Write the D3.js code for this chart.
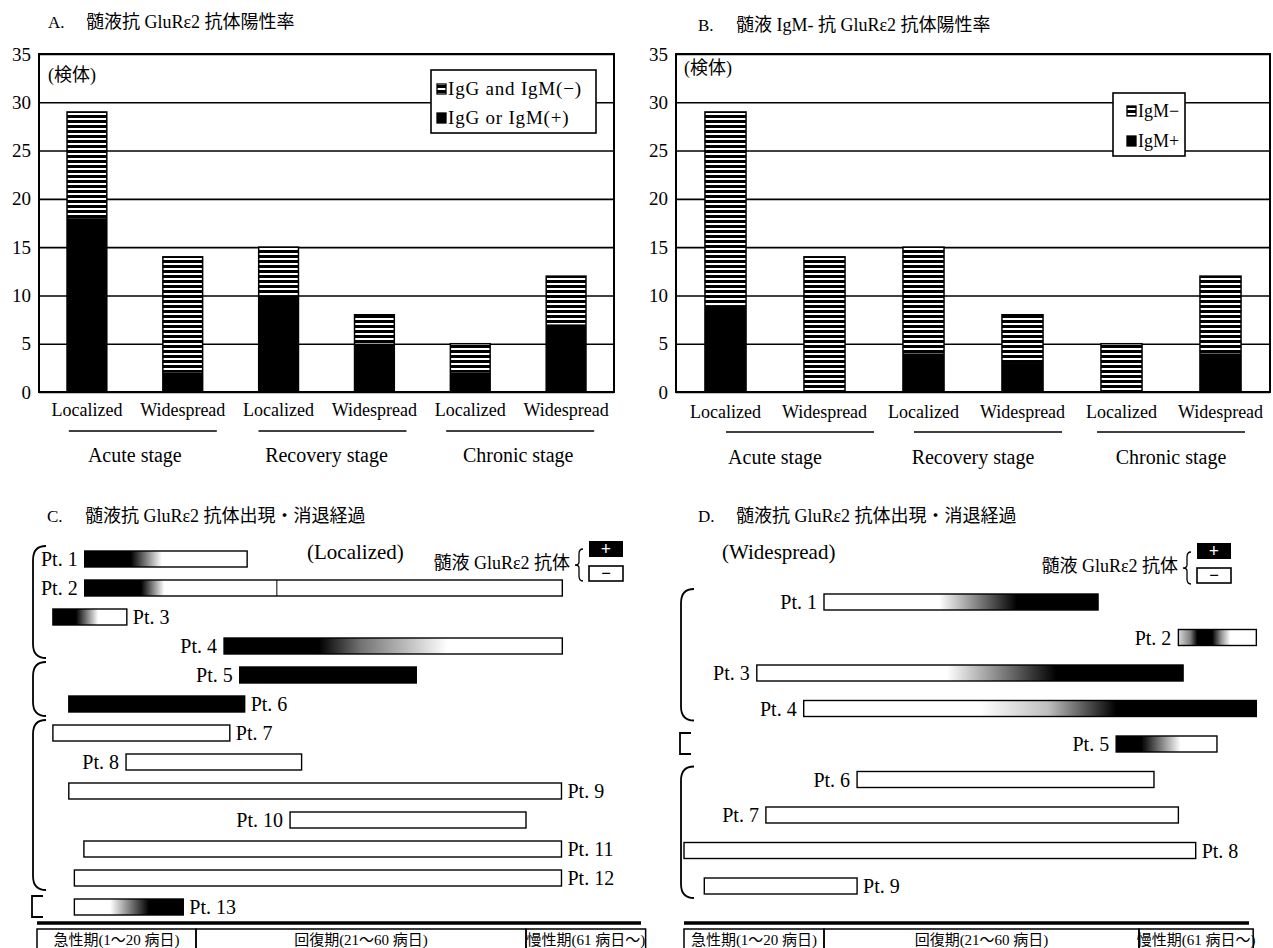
<!DOCTYPE html>
<html><head><meta charset="utf-8">
<script src="https://cdn.jsdelivr.net/npm/d3@7"></script>
<style>
body{margin:0;background:#fff}
svg text{font-family:"Liberation Serif","Noto Sans CJK JP",serif;fill:#000}
</style></head><body>
<svg id="c" width="1273" height="948"></svg>
<script>
// ---------- DATA ----------
const groups = ["Localized", "Widespread"];
const stages = ["Acute stage", "Recovery stage", "Chronic stage"];
const categories = ["Acute-Localized", "Acute-Widespread", "Recovery-Localized", "Recovery-Widespread", "Chronic-Localized", "Chronic-Widespread"];
const yTicks = [0, 5, 10, 15, 20, 25, 30, 35];

const totalA = [29, 14, 15, 8, 5, 12];
const positiveA = [18, 2, 10, 5, 2, 7];
const legendA = ["IgG and IgM(−)", "IgG or IgM(+)"];

const totalB = [29, 14, 15, 8, 5, 12];
const positiveB = [9, 0, 4, 3, 0, 4];
const legendB = ["IgM−", "IgM+"];

const titleA = "髄液抗 GluRε2 抗体陽性率";
const titleB = "髄液 IgM- 抗 GluRε2 抗体陽性率";
const titleC = "髄液抗 GluRε2 抗体出現・消退経過";
const titleD = "髄液抗 GluRε2 抗体出現・消退経過";
const unitLabel = "(検体)";

const phaseLabels = ["急性期(1～20 病日)", "回復期(21～60 病日)", "慢性期(61 病日～)"];
const phaseDays = [0, 20, 60, 74.5];
const keyLabel = "髄液 GluRε2 抗体";

// Panel C (Localized) – day of onset/end, antibody level stops [day, level(1=+,0=-)]
const ptC = ["Pt. 1","Pt. 2","Pt. 3","Pt. 4","Pt. 5","Pt. 6","Pt. 7","Pt. 8","Pt. 9","Pt. 10","Pt. 11","Pt. 12","Pt. 13"];
const startC = [6.0, 6.0, 2.0, 23.4, 25.3, 4.0, 2.0, 11.2, 4.0, 31.4, 5.9, 4.7, 4.7];
const endC   = [26.2, 64.4, 11.3, 64.4, 46.7, 25.9, 24.1, 32.8, 64.3, 60.0, 64.3, 64.3, 18.4];
const profileC = [
  [[11.8,1],[15.7,0]],
  [[13.1,1],[16.0,0]],
  [[4.9,1],[7.7,0]],
  [[34.9,1],[40,0.55],[50.5,0]],
  [[0,1]],
  [[0,1]],
  [],[],[],[],[],[],
  [[9.2,0],[14.1,1]]
];
const sideC = ["L","L","R","L","L","R","R","L","R","L","R","R","R"];
const markC = [null, 29.8, null, null, null, null, null, null, null, null, null, null, null];
const bracketsC = [[0,3],[4,5],[6,11],[12,12]];

// Panel D (Widespread)
const ptD = ["Pt. 1","Pt. 2","Pt. 3","Pt. 4","Pt. 5","Pt. 6","Pt. 7","Pt. 8","Pt. 9"];
const startD = [20.0, 65.0, 10.4, 17.1, 57.1, 24.2, 11.7, 0.0, 2.9];
const endD   = [54.8, 74.9, 65.6, 74.9, 69.9, 61.9, 65.0, 67.2, 24.2];
const profileD = [
  [[34.6,0],[44.5,1]],
  [[65,0.15],[66.5,0.5],[67.4,1],[69.3,1],[70.5,0.4],[71.6,0]],
  [[35.6,0],[49.5,1]],
  [[39.8,0],[48.4,0.25],[57.1,1]],
  [[60.3,1],[65.3,0]],
  [],[],[],[]
];
const sideD = ["L","L","L","L","L","L","L","R","R"];
const markD = [null, null, null, null, null, null, null, null, null];
const bracketsD = [[0,3],[4,4],[5,8]];

// ---------- DRAW ----------
const svg = d3.select("#c");
const defs = svg.append("defs");
const pat = defs.append("pattern").attr("id", "stripes").attr("patternUnits", "userSpaceOnUse")
  .attr("width", 8).attr("height", 5);
pat.append("rect").attr("width", 8).attr("height", 5).attr("fill", "#fff");
pat.append("rect").attr("width", 8).attr("height", 3).attr("fill", "#000");

const gray = v => { const c = Math.round(255 * (1 - v)); return `rgb(${c},${c},${c})`; };

function title(x, y, letter, text) {
  svg.append("text").attr("x", x).attr("y", y).attr("font-size", 17).text(letter);
  svg.append("text").attr("x", x + 38).attr("y", y).attr("font-size", 18).text(text);
}

function barPanel(c) {
  const g = svg.append("g");
  const x = d3.scaleBand().domain(categories).range([c.x0, c.x1]).paddingInner(c.pad).paddingOuter(c.pad / 2);
  const y = d3.scaleLinear().domain([0, 35]).range([c.yb, c.yt]);

  const ax = g.append("g").attr("transform", `translate(${c.x0},0)`)
    .call(d3.axisLeft(y).tickValues(yTicks).tickSize(-(c.x1 - c.x0)).tickPadding(8).tickFormat(d3.format("d")));
  ax.select(".domain").remove();
  ax.selectAll(".tick line").attr("stroke", "#000").attr("stroke-width", 1.6);
  ax.selectAll(".tick text").attr("font-size", 19).attr("fill", "#000");

  g.append("rect").attr("x", c.x0).attr("y", c.yt).attr("width", c.x1 - c.x0).attr("height", c.yb - c.yt)
    .attr("fill", "none").attr("stroke", "#000").attr("stroke-width", 2);

  g.append("text").attr("x", c.unitX).attr("y", c.unitY).attr("font-size", 18).text(unitLabel);

  const bars = g.selectAll(".bar").data(categories).join("g");
  bars.append("rect").attr("x", d => x(d)).attr("width", x.bandwidth())
    .attr("y", (d, i) => y(c.total[i])).attr("height", (d, i) => y(c.pos[i]) - y(c.total[i]))
    .attr("fill", "url(#stripes)");
  bars.append("rect").attr("x", d => x(d)).attr("width", x.bandwidth())
    .attr("y", (d, i) => y(c.pos[i])).attr("height", (d, i) => y(0) - y(c.pos[i]))
    .attr("fill", "#000");
  bars.append("rect").attr("x", d => x(d)).attr("width", x.bandwidth())
    .attr("y", (d, i) => y(c.total[i])).attr("height", (d, i) => y(0) - y(c.total[i]))
    .attr("fill", "none").attr("stroke", "#000").attr("stroke-width", 1.5);

  const xa = g.append("g").attr("transform", `translate(0,${c.yb})`)
    .call(d3.axisBottom(x).tickSize(0).tickPadding(c.labPad).tickFormat((d, i) => groups[i % 2]));
  xa.select(".domain").remove();
  xa.selectAll("text").attr("font-size", 18).attr("fill", "#000");

  stages.forEach((s, k) => {
    const a = x(categories[2 * k]) + x.bandwidth() / 2, b = x(categories[2 * k + 1]) + x.bandwidth() / 2;
    const m = (a + b) / 2;
    g.append("line").attr("x1", m - 74 + c.ulShift[k]).attr("x2", m + 74 + c.ulShift[k])
      .attr("y1", c.ulY).attr("y2", c.ulY).attr("stroke", "#000").attr("stroke-width", 1.6);
    g.append("text").attr("x", m).attr("y", c.stY).attr("text-anchor", "middle").attr("font-size", 20).text(s);
  });

  const L = c.leg;
  g.append("rect").attr("x", L.x).attr("y", L.y).attr("width", L.w).attr("height", L.h)
    .attr("fill", "#fff").attr("stroke", "#000").attr("stroke-width", 1.6);
  c.legend.forEach((t, i) => {
    const cy = L.y + L.i0 + i * L.di;
    g.append("rect").attr("x", L.sx).attr("y", cy - 5).attr("width", 9).attr("height", 10)
      .attr("fill", i === 0 ? "url(#stripes)" : "#000").attr("stroke", "#000").attr("stroke-width", 1.3);
    g.append("text").attr("x", L.sx + 11).attr("y", cy + 6).attr("font-size", L.fs)
      .attr("letter-spacing", L.ls).text(t);
  });
}

barPanel({x0: 39, x1: 614, yt: 54, yb: 392, pad: 0.585, total: totalA, pos: positiveA, legend: legendA,
  unitX: 48, unitY: 81, labPad: 11, ulY: 431, ulShift: [8, 6, 2], stY: 462,
  leg: {x: 431, y: 70, w: 165, h: 63, sx: 437, i0: 19, di: 29, fs: 19, ls: 0.8}});
barPanel({x0: 676, x1: 1270, yt: 54, yb: 392, pad: 0.585, total: totalB, pos: positiveB, legend: legendB,
  unitX: 684, unitY: 74, labPad: 13, ulY: 432, ulShift: [25, 15, 0], stY: 464,
  leg: {x: 1113, y: 93, w: 72, h: 63, sx: 1127, i0: 18, di: 30, fs: 18, ls: 0}});

title(48, 28, "A.", titleA);
title(698, 31, "B.", titleB);
title(47, 522, "C.", titleC);
title(698, 522, "D.", titleD);

function timeline(c) {
  const g = svg.append("g");
  const t = d3.scaleLinear().domain(phaseDays.slice(0, 3)).range(c.range);
  const row = d3.scalePoint().domain(d3.range(c.pts.length)).range(c.rows);
  const bh = 16;

  c.pts.forEach((p, i) => {
    const xa = t(c.start[i]), xb = t(c.end[i]);
    let fill = "#fff";
    const prof = c.prof[i];
    if (prof.length) {
      const id = `${c.id}g${i}`;
      const lg = defs.append("linearGradient").attr("id", id).attr("gradientUnits", "userSpaceOnUse")
        .attr("x1", xa).attr("x2", xb).attr("y1", 0).attr("y2", 0);
      prof.forEach(([d, v]) => {
        const off = Math.max(0, Math.min(1, (t(d) - xa) / (xb - xa)));
        lg.append("stop").attr("offset", off).attr("stop-color", gray(v));
      });
      fill = `url(#${id})`;
    }
    g.append("rect").attr("x", xa).attr("y", row(i) - bh / 2).attr("width", xb - xa).attr("height", bh)
      .attr("fill", fill).attr("stroke", "#000").attr("stroke-width", 1.4);
    if (c.mark[i] != null) {
      g.append("line").attr("x1", t(c.mark[i])).attr("x2", t(c.mark[i]))
        .attr("y1", row(i) - bh / 2).attr("y2", row(i) + bh / 2).attr("stroke", "#000").attr("stroke-width", 1);
    }
    const left = c.side[i] === "L";
    g.append("text").attr("x", left ? xa - 7 : xb + 6).attr("y", row(i) + 7)
      .attr("text-anchor", left ? "end" : "start").attr("font-size", 20).text(p);
  });

  c.br.forEach(([a, b]) => {
    const top = row(a) - 13, bot = row(b) + 12, x = c.bx;
    let d;
    if (a === b) d = `M${x + 11},${top + 2} H${x} V${bot - 2} H${x + 11}`;
    else d = `M${x + 14},${top} Q${x + 1},${top} ${x + 1},${top + 14} L${x + 1},${bot - 14} Q${x + 1},${bot} ${x + 14},${bot}`;
    g.append("path").attr("d", d).attr("fill", "none").attr("stroke", "#000").attr("stroke-width", 1.8);
  });

  g.append("line").attr("x1", t(0)).attr("x2", c.lineEnd).attr("y1", 923).attr("y2", 923)
    .attr("stroke", "#000").attr("stroke-width", 3.5);
  phaseLabels.forEach((lab, k) => {
    const a = t(phaseDays[k]), b = t(phaseDays[k + 1]);
    g.append("rect").attr("x", a).attr("y", 929).attr("width", b - a).attr("height", 30)
      .attr("fill", "none").attr("stroke", "#000").attr("stroke-width", 1.5);
    g.append("text").attr("x", (a + b) / 2).attr("y", 945).attr("text-anchor", "middle")
      .attr("font-size", 15).text(lab);
  });

  g.append("text").attr("x", c.subX).attr("y", c.subY).attr("font-size", 21).text(c.sub);
  g.append("text").attr("x", c.keyX).attr("y", c.keyY).attr("text-anchor", "end").attr("font-size", 18).text(keyLabel);
  const bx = c.keyX + 6, by0 = c.keyY - 20, by1 = c.keyY + 12, bm = (by0 + by1) / 2;
  g.append("path").attr("d", `M${bx + 7},${by0} Q${bx + 3},${by0} ${bx + 3},${by0 + 5} L${bx + 3},${bm - 3} Q${bx + 3},${bm} ${bx - 1},${bm} Q${bx + 3},${bm} ${bx + 3},${bm + 3} L${bx + 3},${by1 - 5} Q${bx + 3},${by1} ${bx + 7},${by1}`)
    .attr("fill", "none").attr("stroke", "#000").attr("stroke-width", 1.3);
  const kx = c.keyX + 19;
  g.append("rect").attr("x", kx).attr("y", c.plusY).attr("width", 34).attr("height", 16).attr("fill", "#000");
  g.append("text").attr("x", kx + 17).attr("y", c.plusY + 14).attr("text-anchor", "middle").attr("font-size", 18)
    .attr("font-weight", "bold").style("fill", "#fff").text("+");
  g.append("rect").attr("x", kx).attr("y", c.plusY + 25).attr("width", 34).attr("height", 15)
    .attr("fill", "#fff").attr("stroke", "#000").attr("stroke-width", 1.6);
  g.append("text").attr("x", kx + 17).attr("y", c.plusY + 38).attr("text-anchor", "middle").attr("font-size", 17)
    .attr("font-weight", "bold").text("−");
}

timeline({id: "C", range: [37, 196, 526], rows: [559, 907], pts: ptC, start: startC, end: endC, prof: profileC,
  side: sideC, mark: markC, br: bracketsC, bx: 32, lineEnd: 641,
  sub: "(Localized)", subX: 307, subY: 559, keyX: 570, keyY: 569, plusY: 541});
timeline({id: "D", range: [684, 824, 1139], rows: [602, 886], pts: ptD, start: startD, end: endD, prof: profileD,
  side: sideD, mark: markD, br: bracketsD, bx: 680, lineEnd: 1249,
  sub: "(Widespread)", subX: 722, subY: 559, keyX: 1178, keyY: 572, plusY: 543});
</script>
</body></html>
